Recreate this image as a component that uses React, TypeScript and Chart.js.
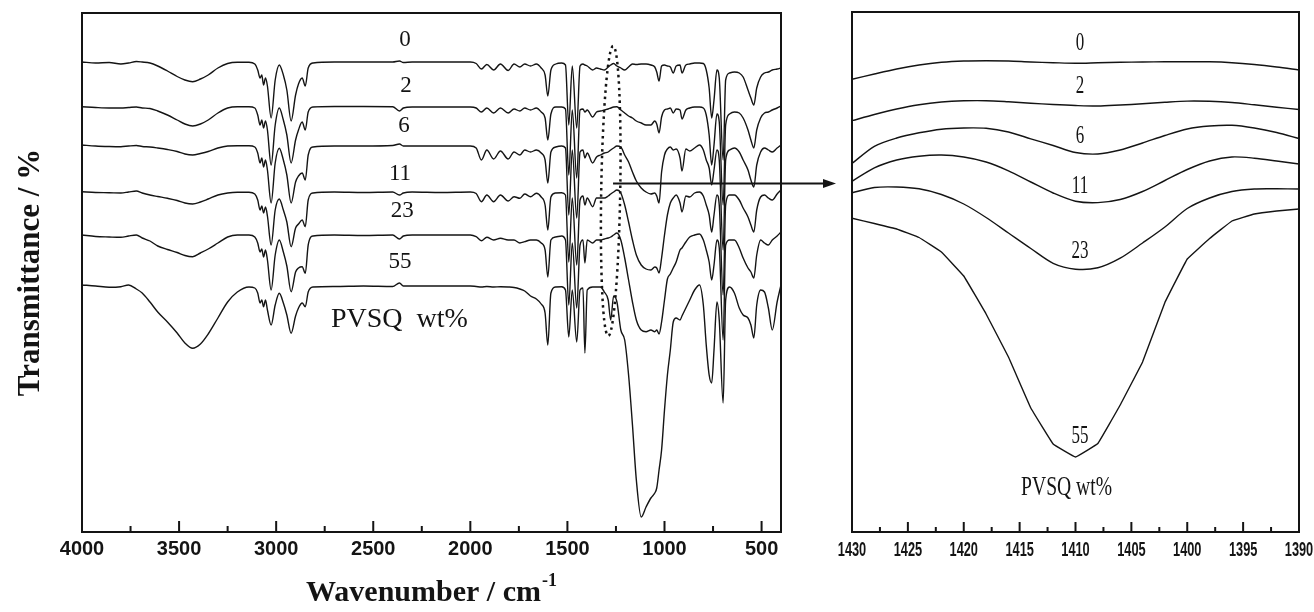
import React, { useEffect, useRef } from 'react';
import { Chart, registerables } from 'chart.js';

Chart.register(...registerables);

// ---------- Left panel: full FTIR spectra (transmittance, arbitrary units, stacked) ----------
const wavenumbers = [
  4000, 3930, 3860, 3800, 3760, 3720, 3690, 3650, 3610, 3560,
  3510, 3470, 3430, 3390, 3350, 3300, 3250, 3200, 3140, 3110,
  3095, 3083, 3074, 3065, 3055, 3045, 3026, 3005, 2984, 2963,
  2945, 2923, 2900, 2885, 2866, 2850, 2835, 2810, 2700, 2550,
  2400, 2365, 2345, 2300, 2150, 2000, 1970, 1943, 1915, 1880,
  1845, 1805, 1775, 1745, 1720, 1690, 1660, 1635, 1615, 1601,
  1585, 1560, 1530, 1510, 1493, 1475, 1452, 1435, 1420, 1410,
  1398, 1370, 1350, 1330, 1310, 1290, 1277, 1262, 1245, 1225,
  1205, 1185, 1165, 1145, 1120, 1095, 1070, 1050, 1040, 1028,
  1015, 1000, 985, 970, 955, 940, 920, 910, 890, 870,
  845, 820, 800, 785, 770, 757, 745, 730, 718, 698,
  685, 665, 640, 615, 595, 570, 555, 540, 525, 505,
  485, 465, 445, 420, 400,
];

const pvsq0 = [
  470, 469, 469.5, 468, 469, 470.5, 470, 469, 466, 461,
  455.5, 452, 450.3, 453, 457, 464, 468.5, 469.7, 469.7, 468,
  462, 454, 457, 447, 454, 446, 414, 452, 467, 457,
  442, 411, 437, 448, 454, 446, 464, 469, 470, 470,
  470, 471, 469.5, 470, 470, 470, 468.5, 463, 467.5, 462,
  468, 461.5, 468, 465, 468, 466, 468, 464, 457, 436,
  462, 468, 469, 467, 407, 466, 404, 466, 468, 467,
  466, 462, 464, 463, 462, 465, 467, 468.5, 466, 464,
  462, 465, 468, 467.5, 468, 468, 467, 465, 460, 451,
  466, 467, 466, 465, 459, 466, 467, 459, 467, 468,
  469, 469, 468.5, 462, 444, 414, 432, 462, 454, 372,
  452, 459, 460, 459, 455, 442, 434, 427, 444, 455,
  459, 460, 462, 463, 464,
];

const pvsq2 = [
  425.3, 424.5, 424, 424, 424.5, 425, 424, 423.5, 421, 417,
  412, 408, 406, 408, 412, 419, 424, 425.3, 425.3, 424,
  417, 407, 412, 404, 411, 402, 367, 407, 424, 412,
  397, 369, 392, 402, 410, 402, 420, 425, 425.5, 425.5,
  425.3, 421, 424, 425, 425, 425, 424, 420, 424, 419,
  424, 419, 423, 421, 424, 422, 424, 420, 414, 392,
  418, 425, 425, 423, 357, 422, 354, 422, 423, 420,
  422, 415, 420, 421, 422, 423, 424, 425, 425.3, 422,
  419, 416, 414, 411, 409, 407, 407, 411, 408, 399,
  415, 422, 423, 424, 419, 423, 422, 413, 422, 424,
  425, 425, 424, 417, 397, 367, 387, 418, 410, 327,
  407, 418, 420, 419, 414, 402, 392, 384, 402, 414,
  419, 420, 422, 424, 426,
];

const pvsq6 = [
  387, 386, 385.5, 385.3, 386, 386.5, 385.5, 385, 384, 382.5,
  380.5, 378, 377, 378.5, 380.5, 384, 386, 386.3, 386.3, 385,
  379, 369, 374, 365, 372, 362, 329, 369, 383.7, 372,
  357, 329, 350, 356, 359, 352, 377, 385, 386, 386,
  386.5, 388, 386, 386, 386, 386, 384, 372, 382, 373,
  381, 373, 380, 377, 382, 380, 382, 379, 372, 349,
  380, 385, 386, 384, 317, 382, 314, 380, 382, 374,
  379, 369, 375, 377, 379, 380, 382, 384, 386, 385,
  377, 370, 360, 351, 344, 340, 338, 339, 336, 329,
  360, 377, 383, 385, 382, 383, 374, 361, 383, 381,
  384, 387, 382, 372, 364, 347, 362, 382, 372, 282,
  372, 382, 384, 380, 372, 362, 352, 345, 367, 380,
  384, 382, 380, 384, 387,
];

const pvsq11 = [
  340.3, 339.5, 339.3, 339, 340, 341, 339, 337, 335.5, 333.7,
  331.5, 329, 328, 330, 333, 337, 339, 339.7, 339.7, 338,
  332, 322, 326, 319, 325, 316, 287, 322, 333, 322,
  310, 285.3, 304, 308, 312, 305.3, 332, 339, 340, 339.5,
  340, 337, 339, 340, 339.5, 340, 338.5, 330.3, 337, 330.3,
  337, 331, 335.3, 333.7, 338, 335.3, 338.7, 335, 327, 302,
  335, 339, 339.3, 337, 270, 334, 267, 332, 336, 327,
  334, 325.3, 334, 334, 334, 336, 338, 340, 342, 339,
  327, 310, 292, 277, 267, 263, 262, 265, 264, 259,
  274, 297, 317, 329, 334, 337, 329, 320, 336, 335,
  339, 340, 336, 327, 317, 300, 317, 337, 327, 237,
  327, 337, 337, 332, 324, 315, 307, 300, 322, 335,
  337, 334, 332, 338, 342,
];

const pvsq23 = [
  297, 295.5, 295, 294.7, 296, 297, 294, 291, 286, 282.5,
  279.5, 276.5, 275.3, 279, 283, 289, 295, 297, 297, 295,
  289, 280, 283, 275, 282, 272, 242, 277, 292, 280,
  266, 240.3, 260, 264, 265.3, 258.7, 287, 296, 297, 296.5,
  297, 293, 296, 297, 297, 297, 295.3, 291.3, 294.7, 292,
  293.7, 292, 292, 289, 290.3, 292, 292, 289, 282, 255,
  292, 295, 296, 292, 227, 289, 224, 287, 292, 269,
  292, 289, 292, 292, 293, 294, 295, 297, 299, 292,
  274, 252, 230, 212, 202, 200.3, 202, 200.3, 202, 198,
  210, 232, 253, 258, 264, 270, 282, 284, 290, 295,
  297, 298, 292, 282, 270, 252, 267, 292, 284, 192,
  287, 292, 292, 284, 274, 264, 260, 254, 277, 292,
  289, 287, 292, 296, 300,
];

const pvsq55 = [
  247, 246, 244.7, 245.3, 247, 243, 239, 230, 220, 210,
  199, 189, 183.7, 188, 198, 214, 230, 240, 245, 244,
  239, 229, 232, 225.3, 232, 222, 207, 227, 238.7, 229,
  217, 198.7, 216, 224, 229, 225.3, 240, 245, 245.5, 246,
  245.5, 249, 246, 246, 246, 246, 245.5, 245, 245.5, 245,
  245.3, 245, 244.5, 243, 241, 236, 233, 228, 219, 187,
  239, 245, 245.3, 242, 195, 242, 190, 242, 244, 179,
  242, 245, 245, 245, 240, 232, 212, 236, 230, 202,
  192, 157, 107, 52, 15, 25, 34, 39, 44, 62,
  82, 122, 157, 182, 210, 214, 212, 216, 224, 232,
  242, 247, 227, 187, 157, 149, 182, 230, 212, 129,
  232, 245, 239, 224, 217, 214, 207, 194, 227, 242,
  240, 224, 202, 230, 247,
];

const seriesNames = ['0', '2', '6', '11', '23', '55'];
const leftSeries = [pvsq0, pvsq2, pvsq6, pvsq11, pvsq23, pvsq55];

// in-plot labels of the left panel (wavenumber, level)
const leftLabelWn = [2336, 2331, 2341, 2362, 2351, 2362];
const leftLabelLevel = [492, 446, 406, 358, 321, 270];
const leftNoteText = 'PVSQ  wt%';
const leftNoteWn = 2718;
const leftNoteLevel = 205;

const leftMajorTicks = [4000, 3500, 3000, 2500, 2000, 1500, 1000, 500];
const leftMinorTicks = [3750, 3250, 2750, 2250, 1750, 1250, 750];

// dotted ellipse marking the zoomed band, and the arrow level
const ellipseWn = 1277;
const ellipseHalfWn = 49;
const ellipseLevel = 341;
const ellipseHalfLevel = 145;
const arrowStartWn = 1265;
const arrowLevel = 349;

// ---------- Right panel: zoom of the 1430-1390 cm-1 region ----------
const zoomWn = [1430, 1428, 1426, 1424, 1422, 1420, 1418, 1416, 1414, 1412, 1410, 1408, 1406, 1404, 1402, 1400, 1398, 1396, 1394, 1392, 1390];
const zoom0 = [452.7, 458, 463, 467, 469.7, 471, 471.3, 471, 470, 469.3, 468.7, 469.2, 469.7, 470, 470.2, 470.3, 470.2, 469.3, 467.5, 465, 462];
const zoom2 = [411.3, 417.5, 423, 427.3, 430, 431.2, 431.3, 430.2, 428.8, 427.5, 426.5, 426, 427, 428.2, 429.7, 430.9, 430.7, 429.5, 427.2, 424.8, 422.5];
const zoom6 = [368.5, 385.7, 394, 399.2, 402.8, 404, 403.7, 400, 393.2, 386.5, 379.5, 378, 382, 389, 396.5, 403, 406, 406.7, 404, 399.5, 393.5];
const zoom11 = [350.7, 364.2, 372, 375.8, 377, 375, 370, 361.2, 350, 339, 330.8, 329.4, 332.5, 340.5, 351.5, 362.5, 371, 375, 373.8, 371, 368];
const zoom23 = [339.2, 344.5, 345, 343.2, 337.5, 328, 314.5, 299, 283.5, 268.7, 262.8, 264.2, 273.8, 289, 305, 323.5, 334, 340.5, 343, 343.2, 343];
const zoom55 = [313.8, 308.5, 303, 294.5, 280, 256, 218, 175, 124, 88, 75, 88.5, 127, 170, 229.5, 273, 293.5, 311, 318, 321, 323];
const zoomSeries = [zoom0, zoom2, zoom6, zoom11, zoom23, zoom55];

const zoomLabelWn = 1409.6;
const zoomLabelLevel = [488.5, 445.3, 395.3, 346, 280.3, 96];
const zoomNoteText = 'PVSQ wt%';
const zoomNoteWn = 1410.8;
const zoomNoteLevel = 37;

const zoomMajorTicks = [1430, 1425, 1420, 1415, 1410, 1405, 1400, 1395, 1390];
const zoomMinorTicks = [1427.5, 1422.5, 1417.5, 1412.5, 1407.5, 1402.5, 1397.5, 1392.5];

const INK = '#141414';
const SERIF = '"Liberation Serif", "Times New Roman", Times, serif';
const SANS = '"Liberation Sans", Arial, Helvetica, sans-serif';

const W = 1314;
const H = 612;

const leftDecor = {
  id: 'leftDecor',
  afterDatasetsDraw(chart: any) {
    const { ctx, chartArea: a } = chart;
    const xs = chart.scales.x;
    const ys = chart.scales.y;
    ctx.save();
    ctx.strokeStyle = INK;
    ctx.fillStyle = INK;
    ctx.lineWidth = 2;
    ctx.strokeRect(a.left, a.top, a.right - a.left, a.bottom - a.top);
    ctx.beginPath();
    leftMajorTicks.forEach((v) => {
      const px = xs.getPixelForValue(v);
      ctx.moveTo(px, a.bottom);
      ctx.lineTo(px, a.bottom - 11);
    });
    leftMinorTicks.forEach((v) => {
      const px = xs.getPixelForValue(v);
      ctx.moveTo(px, a.bottom);
      ctx.lineTo(px, a.bottom - 6);
    });
    ctx.stroke();

    // series labels
    ctx.font = `23px ${SERIF}`;
    ctx.textAlign = 'center';
    ctx.textBaseline = 'middle';
    seriesNames.forEach((name, i) => {
      ctx.fillText(name, xs.getPixelForValue(leftLabelWn[i]), ys.getPixelForValue(leftLabelLevel[i]));
    });
    ctx.font = `28px ${SERIF}`;
    ctx.textAlign = 'left';
    ctx.textBaseline = 'alphabetic';
    ctx.fillText(leftNoteText, xs.getPixelForValue(leftNoteWn), ys.getPixelForValue(leftNoteLevel));

    // dotted ellipse
    const ex = xs.getPixelForValue(ellipseWn);
    const ey = ys.getPixelForValue(ellipseLevel);
    const rx = Math.abs(xs.getPixelForValue(ellipseWn - ellipseHalfWn) - ex);
    const ry = Math.abs(ys.getPixelForValue(ellipseLevel + ellipseHalfLevel) - ey);
    ctx.save();
    ctx.setLineDash([2.5, 4]);
    ctx.lineWidth = 2.5;
    ctx.beginPath();
    ctx.ellipse(ex, ey, rx, ry, 0.017, 0, Math.PI * 2);
    ctx.stroke();
    ctx.restore();

    // arrow to the zoomed panel
    const ay = Math.round(ys.getPixelForValue(arrowLevel)) + 0.5;
    const ax0 = xs.getPixelForValue(arrowStartWn);
    const tip = 836;
    ctx.lineWidth = 2;
    ctx.beginPath();
    ctx.moveTo(ax0, ay);
    ctx.lineTo(tip - 10, ay);
    ctx.stroke();
    ctx.beginPath();
    ctx.moveTo(tip, ay);
    ctx.lineTo(tip - 13, ay - 4.5);
    ctx.lineTo(tip - 13, ay + 4.5);
    ctx.closePath();
    ctx.fill();

    // axis titles
    const cy = (a.top + a.bottom) / 2;
    ctx.save();
    ctx.translate(39, cy);
    ctx.rotate(-Math.PI / 2);
    ctx.font = `bold 31px ${SERIF}`;
    ctx.textAlign = 'center';
    ctx.textBaseline = 'alphabetic';
    ctx.fillText('Transmittance / %', 0, 0);
    ctx.restore();

    const main = 'Wavenumber / cm';
    const sup = '-1';
    ctx.font = `bold 30px ${SERIF}`;
    const w1 = ctx.measureText(main).width;
    ctx.font = `bold 18px ${SERIF}`;
    const w2 = ctx.measureText(sup).width;
    const cx = (a.left + a.right) / 2;
    const x0 = cx - (w1 + w2 + 1) / 2;
    ctx.textAlign = 'left';
    ctx.textBaseline = 'alphabetic';
    ctx.font = `bold 30px ${SERIF}`;
    ctx.fillText(main, x0, 601);
    ctx.font = `bold 18px ${SERIF}`;
    ctx.fillText(sup, x0 + w1 + 1, 586);
    ctx.restore();
  },
};

const rightDecor = {
  id: 'rightDecor',
  afterDatasetsDraw(chart: any) {
    const { ctx, chartArea: a } = chart;
    const xs = chart.scales.x;
    const ys = chart.scales.y;
    ctx.save();
    ctx.strokeStyle = INK;
    ctx.fillStyle = INK;
    ctx.lineWidth = 2;
    ctx.strokeRect(a.left, a.top, a.right - a.left, a.bottom - a.top);
    ctx.beginPath();
    zoomMajorTicks.forEach((v) => {
      const px = xs.getPixelForValue(v);
      ctx.moveTo(px, a.bottom);
      ctx.lineTo(px, a.bottom - 10);
    });
    zoomMinorTicks.forEach((v) => {
      const px = xs.getPixelForValue(v);
      ctx.moveTo(px, a.bottom);
      ctx.lineTo(px, a.bottom - 5);
    });
    ctx.stroke();

    // condensed tick labels
    ctx.font = `bold 20px ${SANS}`;
    ctx.textAlign = 'center';
    ctx.textBaseline = 'alphabetic';
    zoomMajorTicks.forEach((v) => {
      const px = xs.getPixelForValue(v);
      ctx.save();
      ctx.translate(px, a.bottom + 24);
      ctx.scale(0.64, 1);
      ctx.fillText(String(v), 0, 0);
      ctx.restore();
    });

    // condensed series labels
    ctx.font = `25px ${SERIF}`;
    ctx.textBaseline = 'middle';
    seriesNames.forEach((name, i) => {
      ctx.save();
      ctx.translate(xs.getPixelForValue(zoomLabelWn), ys.getPixelForValue(zoomLabelLevel[i]));
      ctx.scale(0.68, 1);
      ctx.fillText(name, 0, 0);
      ctx.restore();
    });
    ctx.font = `28px ${SERIF}`;
    ctx.textBaseline = 'alphabetic';
    ctx.save();
    ctx.translate(xs.getPixelForValue(zoomNoteWn), ys.getPixelForValue(zoomNoteLevel));
    ctx.scale(0.7, 1);
    ctx.fillText(zoomNoteText, 0, 0);
    ctx.restore();
    ctx.restore();
  },
};

export default function App() {
  const leftRef = useRef<HTMLCanvasElement | null>(null);
  const rightRef = useRef<HTMLCanvasElement | null>(null);

  useEffect(() => {
    if (!leftRef.current || !rightRef.current) return;

    const left = new Chart(leftRef.current, {
      type: 'line',
      data: {
        datasets: leftSeries.map((vals, i) => ({
          label: seriesNames[i] + ' wt%',
          data: wavenumbers.map((w, k) => ({ x: w, y: vals[k] })),
          borderColor: INK,
          borderWidth: 1.4,
          pointRadius: 0,
          fill: false,
          cubicInterpolationMode: 'monotone' as const,
        })),
      },
      options: {
        responsive: false,
        animation: false,
        devicePixelRatio: 1,
        events: [],
        layout: { padding: { left: 82, top: 13, right: W - 781, bottom: 0 } },
        plugins: { legend: { display: false }, tooltip: { enabled: false } },
        scales: {
          x: {
            type: 'linear',
            reverse: true,
            min: 400,
            max: 4000,
            grid: { display: false, drawTicks: false },
            border: { display: false },
            afterBuildTicks: (s: any) => {
              s.ticks = leftMajorTicks.map((v) => ({ value: v }));
            },
            afterFit: (s: any) => {
              s.height = H - 532;
            },
            ticks: {
              autoSkip: false,
              maxRotation: 0,
              padding: 5,
              color: INK,
              font: { family: SANS, size: 20, weight: 'bold' },
              callback: (v: any) => String(v),
            },
          },
          y: { display: false, min: 0, max: 519 },
        },
      },
      plugins: [leftDecor],
    });

    const right = new Chart(rightRef.current, {
      type: 'line',
      data: {
        datasets: zoomSeries.map((vals, i) => ({
          label: seriesNames[i] + ' wt%',
          data: zoomWn.map((w, k) => ({ x: w, y: vals[k] })),
          borderColor: INK,
          borderWidth: 1.4,
          pointRadius: 0,
          fill: false,
          tension: i === 5 ? 0.05 : 0.3,
        })),
      },
      options: {
        responsive: false,
        animation: false,
        devicePixelRatio: 1,
        events: [],
        layout: { padding: { left: 852, top: 12, right: W - 1299, bottom: 0 } },
        plugins: { legend: { display: false }, tooltip: { enabled: false } },
        scales: {
          x: {
            type: 'linear',
            reverse: true,
            min: 1390,
            max: 1430,
            grid: { display: false, drawTicks: false },
            border: { display: false },
            ticks: { display: false },
            afterFit: (s: any) => {
              s.height = H - 532;
            },
          },
          y: { display: false, min: 0, max: 520 },
        },
      },
      plugins: [rightDecor],
    });

    return () => {
      left.destroy();
      right.destroy();
    };
  }, []);

  const canvasStyle: React.CSSProperties = { position: 'absolute', left: 0, top: 0, width: W, height: H };
  return (
    <div style={{ position: 'absolute', left: 0, top: 0, width: W, height: H, background: '#ffffff', overflow: 'hidden' }}>
      <canvas ref={leftRef} width={W} height={H} style={canvasStyle} />
      <canvas ref={rightRef} width={W} height={H} style={canvasStyle} />
    </div>
  );
}
